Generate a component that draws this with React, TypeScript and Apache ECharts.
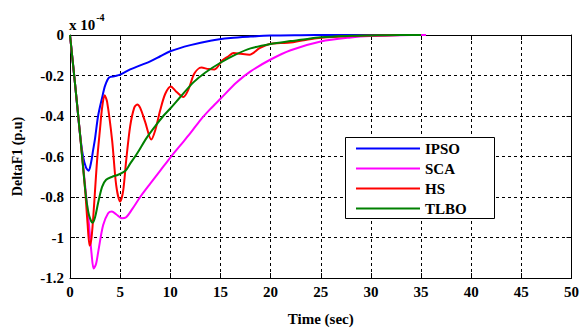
import React, { useEffect, useRef } from "react";
import * as echarts from "echarts";

const seriesNames = ["IPSO", "SCA", "HS", "TLBO"];
const seriesColors = ["#0000ff", "#ff00ff", "#ff0000", "#008000"];

const ipso: [number, number][] = [
  [0, 0], [0.5, -0.24], [1, -0.49], [1.3, -0.6], [1.6, -0.655], [1.86, -0.67], [2.1, -0.63],
  [2.3, -0.57], [2.5, -0.51], [2.8, -0.4], [3.2, -0.31], [3.5, -0.25], [3.9, -0.21], [4.5, -0.203],
  [5, -0.196], [6, -0.17], [7, -0.15], [8, -0.13], [9, -0.105], [10, -0.08], [12, -0.05],
  [14, -0.028], [16, -0.015], [18, -0.008], [20, -0.003], [23, -0.001], [26, 0], [30, 0], [35, 0],
];

const sca: [number, number][] = [
  [0, 0], [0.5, -0.24], [1, -0.49], [1.5, -0.74], [1.9, -0.94], [2.15, -1.08], [2.36, -1.153],
  [2.6, -1.13], [2.85, -1.06], [3.3, -0.94], [3.8, -0.88], [4.18, -0.871], [4.6, -0.885],
  [5.18, -0.905], [5.6, -0.9], [6.2, -0.86], [7, -0.8], [8, -0.734], [9, -0.67], [10, -0.605],
  [11, -0.545], [12, -0.485], [13, -0.42], [14, -0.365], [15, -0.315], [16.6, -0.235],
  [18, -0.18], [20, -0.121], [22, -0.075], [25, -0.032], [28, -0.012], [30, -0.005],
  [33, -0.001], [35.5, 0],
];

const hs: [number, number][] = [
  [0, 0], [0.5, -0.24], [1, -0.49], [1.5, -0.76], [1.75, -0.93], [1.96, -1.04], [2.15, -1.0],
  [2.4, -0.84], [2.7, -0.62], [3.0, -0.46], [3.2, -0.36], [3.45, -0.298], [3.7, -0.33],
  [4.2, -0.52], [4.6, -0.74], [5.0, -0.822], [5.3, -0.77], [5.6, -0.62], [6.0, -0.45],
  [6.4, -0.36], [6.7, -0.343], [7.0, -0.36], [7.5, -0.43], [8.1, -0.516], [8.5, -0.47],
  [9.0, -0.37], [9.5, -0.29], [10.05, -0.254], [10.6, -0.28], [11.3, -0.306], [11.8, -0.27],
  [12.4, -0.19], [13.1, -0.161], [13.8, -0.168], [14.4, -0.17], [15.2, -0.125], [15.8, -0.105],
  [16.3, -0.089], [17.0, -0.093], [17.9, -0.097], [18.9, -0.065], [19.9, -0.044], [21, -0.04],
  [22, -0.037], [23, -0.028], [24.6, -0.016], [27, -0.008], [30, -0.003], [33, 0], [35, 0],
];

const tlbo: [number, number][] = [
  [0, 0], [0.5, -0.24], [1, -0.49], [1.3, -0.65], [1.6, -0.8], [1.9, -0.89], [2.26, -0.927],
  [2.5, -0.9], [2.8, -0.83], [3.2, -0.75], [3.6, -0.715], [4.2, -0.7], [4.8, -0.69],
  [5.5, -0.672], [6.0, -0.635], [6.64, -0.589], [7.64, -0.508], [8.5, -0.45], [9.3, -0.4],
  [10, -0.363], [11, -0.306], [12.3, -0.234], [13.5, -0.185], [15, -0.137], [16.5, -0.097],
  [18, -0.066], [20, -0.044], [22, -0.03], [23, -0.024], [25, -0.011], [28, -0.004],
  [30, -0.002], [33, 0], [35, 0],
];

const seriesData = [ipso, sca, hs, tlbo];

const xTicks = { min: 0, max: 50, interval: 5 };
const yTicks = { min: -1.2, max: 0, interval: 0.2 };

const FONT = "Liberation Serif";

export default function App() {
  const ref = useRef<HTMLDivElement>(null);
  useEffect(() => {
    if (!ref.current) return;
    const chart = echarts.init(ref.current, undefined, { renderer: "svg" });
    const grid = { left: 70, right: 10, top: 35, bottom: 48 };
    const gridLine = { show: true, lineStyle: { color: "#000", type: [3, 3] as any, width: 1 } };
    const axisLine = { show: true, onZero: false, lineStyle: { color: "#000", width: 1 } };
    const labelStyle = { color: "#000", fontFamily: FONT, fontWeight: "bold" as const, fontSize: 15 };
    chart.setOption({
      animation: false,
      backgroundColor: "#fff",
      grid: { ...grid, show: false },
      legend: {
        orient: "vertical",
        left: 346,
        top: 138,
        data: seriesNames,
        icon: "path://M0,0L64,0L64,2.2L0,2.2Z",
        itemWidth: 64,
        itemHeight: 14,
        itemGap: 3,
        padding: [2, 0, 0, 10],
        borderWidth: 0,
        backgroundColor: "transparent",
        textStyle: { ...labelStyle, fontSize: 15, lineHeight: 17 },
      },
      xAxis: [
        {
          type: "value",
          position: "bottom",
          min: xTicks.min,
          max: xTicks.max,
          interval: xTicks.interval,
          name: "Time (sec)",
          nameLocation: "middle",
          nameGap: 33,
          nameTextStyle: { ...labelStyle, fontSize: 15 },
          axisLine,
          axisTick: { show: true, inside: true, length: 5, lineStyle: { color: "#000" } },
          axisLabel: { ...labelStyle, margin: 6 },
          splitLine: gridLine,
        },
        {
          type: "value",
          position: "top",
          min: xTicks.min,
          max: xTicks.max,
          interval: xTicks.interval,
          axisLine,
          axisTick: { show: true, inside: true, length: 5, lineStyle: { color: "#000" } },
          axisLabel: { show: false },
          splitLine: { show: false },
        },
      ],
      yAxis: [
        {
          type: "value",
          position: "left",
          min: yTicks.min,
          max: yTicks.max,
          interval: yTicks.interval,
          name: "DeltaF1 (p.u)",
          nameLocation: "middle",
          nameGap: 46,
          nameTextStyle: { ...labelStyle, fontSize: 14 },
          axisLine,
          axisTick: { show: true, inside: true, length: 5, lineStyle: { color: "#000" } },
          axisLabel: {
            ...labelStyle,
            margin: 6,
            formatter: (v: number) => {
              const r = Math.round(v * 10) / 10;
              return r === 0 ? "0" : String(r);
            },
          },
          splitLine: gridLine,
        },
        {
          type: "value",
          position: "right",
          min: yTicks.min,
          max: yTicks.max,
          interval: yTicks.interval,
          axisLine,
          axisTick: { show: true, inside: true, length: 5, lineStyle: { color: "#000" } },
          axisLabel: { show: false },
          splitLine: { show: false },
        },
      ],
      graphic: [
        {
          type: "rect",
          z: 3,
          shape: { x: 345.5, y: 137.5, width: 149, height: 81 },
          style: { fill: "#fff", stroke: "#000", lineWidth: 1 },
        },
        {
          type: "text",
          left: 69,
          top: 12,
          style: {
            text: "{a|x 10}{b|-4}",
            rich: {
              a: { fontFamily: FONT, fontWeight: "bold", fontSize: 15, fill: "#000", verticalAlign: "bottom", lineHeight: 20 },
              b: { fontFamily: FONT, fontWeight: "bold", fontSize: 10, fill: "#000", verticalAlign: "top", lineHeight: 20, padding: [0, 0, 12, 1] },
            },
          },
        },
      ],
      series: seriesData.map((d, i) => ({
        name: seriesNames[i],
        type: "line",
        data: d,
        xAxisIndex: 0,
        yAxisIndex: 0,
        symbol: "none",
        smooth: 0.3,
        lineStyle: { color: seriesColors[i], width: 2 },
        itemStyle: { color: seriesColors[i] },
      })),
    });
    return () => chart.dispose();
  }, []);
  return (
    <div
      ref={ref}
      style={{ position: "fixed", left: 0, top: 0, width: 582, height: 331 }}
    />
  );
}
